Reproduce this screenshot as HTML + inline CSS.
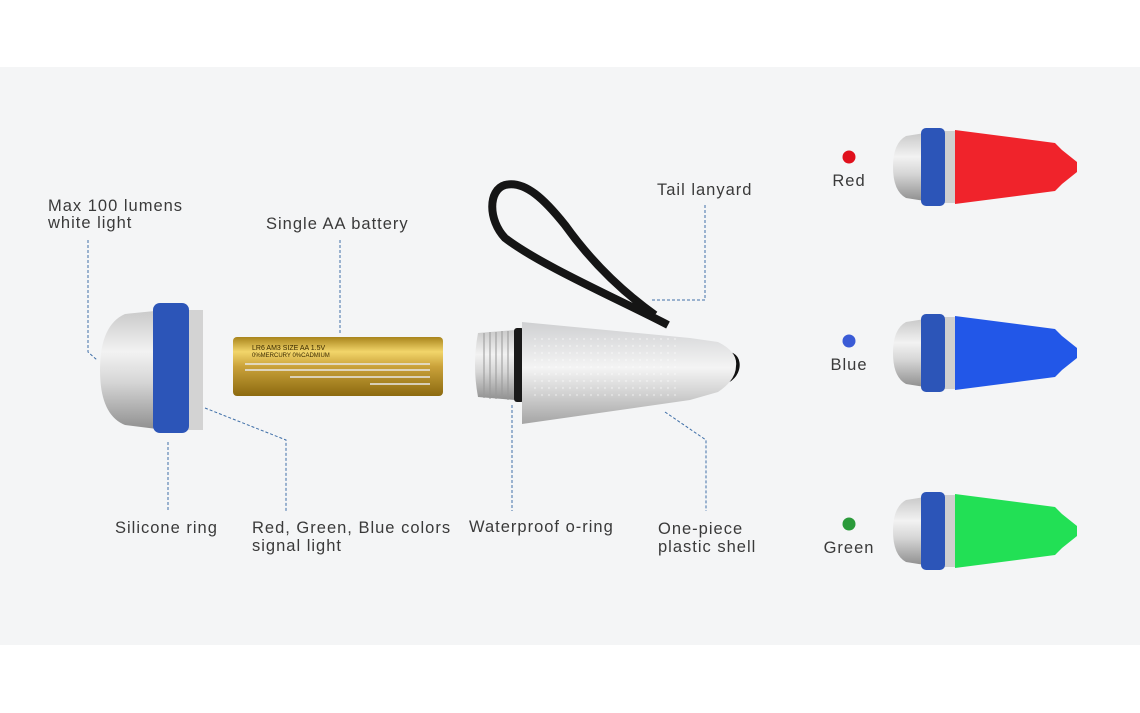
<!DOCTYPE html>
<html><head><meta charset="utf-8"><style>
html,body{margin:0;padding:0;background:#fff;}
svg{display:block}
text{font-family:"Liberation Sans",sans-serif;font-size:16.5px;fill:#3a3a3a;letter-spacing:1px}
</style></head><body>
<svg width="1140" height="713" viewBox="0 0 1140 713" xmlns="http://www.w3.org/2000/svg">
<defs>
<linearGradient id="sil" x1="0" y1="0" x2="0" y2="1">
<stop offset="0" stop-color="#c9c9c9"/><stop offset="0.35" stop-color="#f2f2f2"/><stop offset="0.6" stop-color="#d6d6d6"/><stop offset="1" stop-color="#8f8f8f"/></linearGradient>
<linearGradient id="gold" x1="0" y1="0" x2="0" y2="1">
<stop offset="0" stop-color="#a8841c"/><stop offset="0.25" stop-color="#f2d56a"/><stop offset="0.5" stop-color="#caa23a"/><stop offset="1" stop-color="#8c6a10"/></linearGradient>
<linearGradient id="body" x1="0" y1="0" x2="0" y2="1">
<stop offset="0" stop-color="#cfd0d2"/><stop offset="0.45" stop-color="#f4f4f4"/><stop offset="0.7" stop-color="#d2d2d2"/><stop offset="1" stop-color="#a5a5a5"/></linearGradient>
<pattern id="dots" width="7" height="7" patternUnits="userSpaceOnUse"><circle cx="3" cy="3" r="1.1" fill="#fff" opacity="0.35"/></pattern>
<g id="light">
<path d="M925,-34 L906,-31 Q893,-24 893,0 Q893,24 906,31 L925,34 Z" fill="url(#sil)"/>
<rect x="940" y="-36" width="16" height="72" fill="#cfcfcf"/>
<path d="M955,-37 L1055,-24 L1062,-17 L1077,-5 L1077,5 L1062,17 L1055,24 L955,37 Z" class="c"/>
<rect x="921" y="-39" width="24" height="78" rx="5" fill="#2c55b8"/>
</g>
</defs>
<rect x="0" y="67" width="1140" height="578" fill="#f4f5f6"/>

<g stroke="#3f6fa8" stroke-width="1" stroke-dasharray="3,2" fill="none">
<path d="M88,240 L88,352 L97,360"/>
<path d="M340,240 L340,334"/>
<path d="M168,442 L168,510"/>
<path d="M205,408 L286,440 L286,511"/>
<path d="M512,405 L512,511"/>
<path d="M665,412 L706,440 L706,511"/>
<path d="M705,205 L705,300 L652,300"/>
</g>

<path d="M165,310 L125,314 Q100,325 100,370 Q100,415 125,425 L165,430 Z" fill="url(#sil)"/>
<rect x="185" y="310" width="18" height="120" fill="#d3d3d3"/>
<rect x="153" y="303" width="36" height="130" rx="7" fill="#2c55b8"/>

<rect x="233" y="337" width="210" height="59" rx="4" fill="url(#gold)"/>
<g stroke="#e8e8e8" stroke-width="1.5"><line x1="245" y1="364" x2="430" y2="364"/><line x1="245" y1="370" x2="430" y2="370"/><line x1="290" y1="377" x2="430" y2="377"/><line x1="370" y1="384" x2="430" y2="384"/></g>
<text x="252" y="350" style="font-size:7px;fill:#3a2a00;letter-spacing:0">LR6 AM3 SIZE AA 1.5V</text>
<text x="252" y="357" style="font-size:6px;fill:#3a2a00;letter-spacing:0">0%MERCURY 0%CADMIUM</text>

<path d="M668,325 C620,300 540,265 505,238 C488,220 488,190 505,185 C525,180 545,200 565,225 C590,260 620,290 655,315" fill="none" stroke="#151515" stroke-width="8"/>
<path d="M722,355 C740,350 742,372 728,380" fill="none" stroke="#111" stroke-width="5"/>

<path d="M478,333 L515,330 L515,400 L478,397 Q472,365 478,333 Z" fill="url(#sil)"/>
<g stroke="#999" stroke-width="1"><line x1="484" y1="333" x2="484" y2="398"/><line x1="490" y1="332" x2="490" y2="399"/><line x1="496" y1="332" x2="496" y2="399"/><line x1="502" y1="331" x2="502" y2="399"/><line x1="508" y1="331" x2="508" y2="400"/></g>
<rect x="514" y="328" width="10" height="74" rx="3" fill="#1a1a1a"/>
<path d="M522,322 L690,338 L718,342 Q738,352 736,366 Q736,380 718,392 L690,400 L522,424 Z" fill="url(#body)"/>
<rect x="530" y="338" width="150" height="60" fill="url(#dots)"/>

<g transform="translate(0,167)" fill="#f0232b"><use href="#light"/></g>
<g transform="translate(0,353)" fill="#2257e8"><use href="#light"/></g>
<g transform="translate(0,531)" fill="#22e055"><use href="#light"/></g>
<style>.c{fill:inherit}</style>
<circle cx="849" cy="157" r="6.5" fill="#e0101c"/>
<circle cx="849" cy="341" r="6.5" fill="#3a5bd6"/>
<circle cx="849" cy="524" r="6.5" fill="#2a9a3a"/>
<text x="849" y="186" text-anchor="middle">Red</text>
<text x="849" y="370" text-anchor="middle">Blue</text>
<text x="849" y="553" text-anchor="middle">Green</text>

<text x="48" y="211">Max 100 lumens</text>
<text x="48" y="228">white light</text>
<text x="266" y="229">Single AA battery</text>
<text x="657" y="195">Tail lanyard</text>
<text x="115" y="533">Silicone ring</text>
<text x="252" y="533">Red, Green, Blue colors</text>
<text x="252" y="551">signal light</text>
<text x="469" y="532">Waterproof o-ring</text>
<text x="658" y="534">One-piece</text>
<text x="658" y="552">plastic shell</text>
</svg>
</body></html>
